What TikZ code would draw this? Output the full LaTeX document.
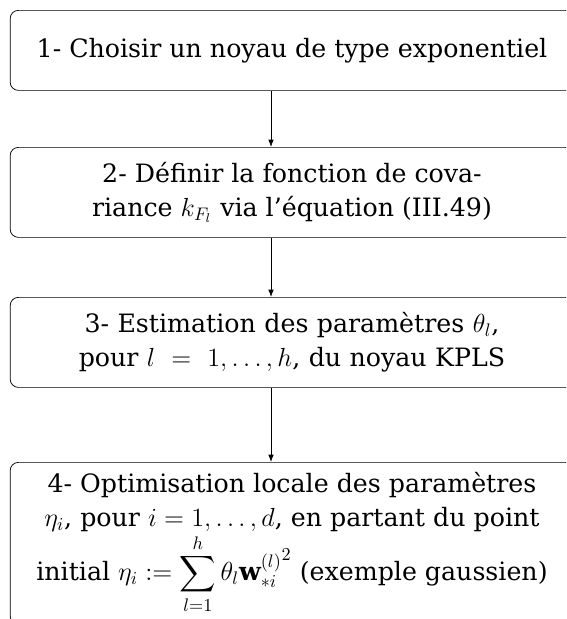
\documentclass[tikz,border=0pt]{standalone}
\usepackage{amsmath,amssymb}
\usepackage{fontspec}
\setmainfont{DejaVu Serif}
\usetikzlibrary{arrows.meta}

\tikzset{
  etape/.style={draw, rounded corners=4.5pt, line width=0.4pt, anchor=north, align=flush center,
    text width=302pt, inner xsep=4pt, inner ysep=0pt, font=\fontsize{13.9}{18.7}\selectfont},
  fleche/.style={-{Latex[length=4pt,width=3pt]}, line width=0.4pt}
}

\begin{document}
\begin{tikzpicture}[x=0.55pt,y=0.55pt,yscale=-1,xscale=1]
\clip (0,0) rectangle (566,619);
\coordinate (ax) at (271,0);

%Shape: Rounded Rectangle [etape 1]
\node [etape, minimum height=44pt] (e1) at (292,10) {1- Choisir un noyau de type exponentiel};
%Shape: Rounded Rectangle [etape 2]
\node [etape, minimum height=49.5pt] (e2) at (292,147) {2- Définir la fonction de cova-\\riance $k_{F_l}$ via l’équation (III.49)};
%Shape: Rounded Rectangle [etape 3]
\node [etape, align=center, minimum height=49.5pt] (e3) at (292,297) {3- Estimation des paramètres $\theta_l$,\\pour $l = 1,\ldots,h$, du noyau KPLS};
%Shape: Rounded Rectangle [etape 4]
\node [etape, minimum height=89pt] (e4) at (292,462) {4- Optimisation locale des paramètres\\$\eta_i$, pour $i=1,\ldots,d$, en partant du point\\initial $\eta_i := \displaystyle\sum_{l=1}^{h}\theta_l{\mathbf{w}_{*i}^{(l)}}^2$ (exemple gaussien)};

%Straight Lines
\draw [fleche] (e1.south -| ax) -- (e2.north -| ax);
\draw [fleche] (e2.south -| ax) -- (e3.north -| ax);
\draw [fleche] (e3.south -| ax) -- (e4.north -| ax);
\end{tikzpicture}
\end{document}
